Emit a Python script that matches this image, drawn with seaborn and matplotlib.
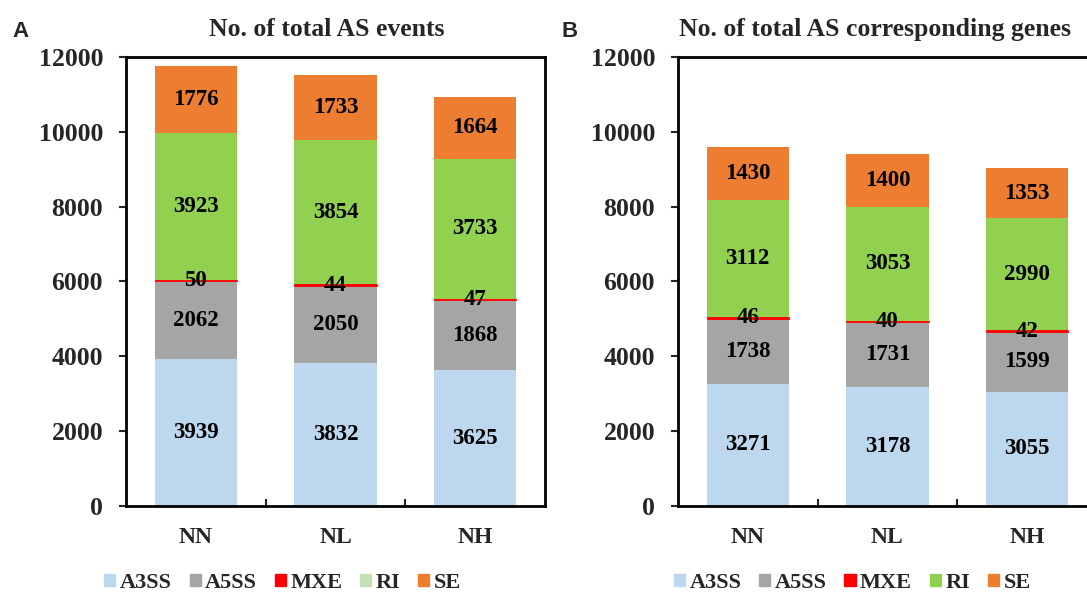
import pandas as pd
import numpy as np
import matplotlib
matplotlib.use("Agg")
import matplotlib.pyplot as plt
import matplotlib.patches as mpatches
import seaborn as sns

# data
groups = ["NN", "NL", "NH"]
types = ["A3SS", "A5SS", "MXE", "RI", "SE"]

events_a3ss = [3939, 3832, 3625]
events_a5ss = [2062, 2050, 1868]
events_mxe = [50, 44, 47]
events_ri = [3923, 3854, 3733]
events_se = [1776, 1733, 1664]

genes_a3ss = [3271, 3178, 3055]
genes_a5ss = [1738, 1731, 1599]
genes_mxe = [46, 40, 42]
genes_ri = [3112, 3053, 2990]
genes_se = [1430, 1400, 1353]

colors = {"A3SS": "#BDD7EE", "A5SS": "#A5A5A5", "MXE": "#FF0000",
          "RI": "#92D050", "SE": "#ED7D31"}

sns.set_theme(style="white")
plt.rcParams["font.family"] = ["Liberation Serif", "DejaVu Serif"]
plt.rcParams["font.weight"] = "bold"


def make_df(a3ss, a5ss, mxe, ri, se):
    df = pd.DataFrame({"group": groups, "A3SS": a3ss, "A5SS": a5ss,
                       "MXE": mxe, "RI": ri, "SE": se})
    return df


def stacked(ax, df, title, title_x):
    cum = df[types].cumsum(axis=1)
    # draw cumulative bars from the top layer down so each covers the next
    for t in ["SE", "RI", "A5SS", "A3SS"]:
        sns.barplot(x=df["group"], y=cum[t], color=colors[t], width=0.59,
                    saturation=1, ax=ax, linewidth=0, edgecolor="none")
    # MXE is a very thin layer: draw it last with an edge so it stays red
    sns.barplot(x=df["group"], y=df["MXE"], bottom=cum["A5SS"].values,
                color=colors["MXE"], width=0.59, saturation=1, ax=ax,
                linewidth=0.6, edgecolor=colors["MXE"])
    for i in range(len(df)):
        for t in types:
            mid = cum.loc[i, t] - df.loc[i, t] / 2
            ax.text(i, mid, str(df.loc[i, t]), ha="center", va="center",
                    fontsize=16.5, fontweight="bold", color="black")
    ax.set_xlim(-0.5, 2.5)
    ax.set_ylim(0, 12000)
    ax.set_yticks(range(0, 12001, 2000))
    ax.set_xlabel("")
    ax.set_ylabel("")
    for s in ax.spines.values():
        s.set_visible(True)
        s.set_linewidth(2)
        s.set_color("black")
    ax.tick_params(axis="y", which="major", direction="out", length=5,
                   width=1.5, pad=11.5, labelsize=18.5, left=True)
    ax.tick_params(axis="x", which="major", length=0, pad=15, labelsize=17)
    ax.set_xticks([0.5, 1.5], minor=True)
    ax.tick_params(axis="x", which="minor", direction="in", length=5,
                   width=1.5, bottom=True)
    for lab in ax.get_xticklabels() + ax.get_yticklabels():
        lab.set_fontweight("bold")
    fig.text(title_x, 0.951, title, ha="center", va="center",
             fontsize=18.5, fontweight="bold")


fig = plt.figure(figsize=(10.87, 5.96), dpi=100)
ax1 = fig.add_axes([0.1159, 0.151, 0.3855, 0.7534])
ax2 = fig.add_axes([0.6237, 0.151, 0.3855, 0.7534])

stacked(ax1, make_df(events_a3ss, events_a5ss, events_mxe, events_ri, events_se),
        "No. of total AS events", 0.301)
stacked(ax2, make_df(genes_a3ss, genes_a5ss, genes_mxe, genes_ri, genes_se),
        "No. of total AS corresponding genes", 0.805)

fig.text(0.011, 0.947, "A", fontsize=16, fontweight="bold",
         family="Liberation Sans", va="center")
fig.text(0.517, 0.947, "B", fontsize=16, fontweight="bold",
         family="Liberation Sans", va="center")

# legends (panel A shows a paler green swatch for RI)
leg_colors_a = dict(colors, RI="#C5E0B4")
for cols, x in [(leg_colors_a, 0.26), (colors, 0.784)]:
    handles = [mpatches.Patch(color=cols[t], label=t) for t in types]
    fig.legend(handles=handles, loc="center", bbox_to_anchor=(x, 0.022),
               ncol=5, frameon=False, handlelength=0.5,
               handleheight=0.5, handletextpad=0.2, columnspacing=0.8,
               prop={"weight": "bold", "size": 16})

fig.savefig("out.png", dpi=100)
